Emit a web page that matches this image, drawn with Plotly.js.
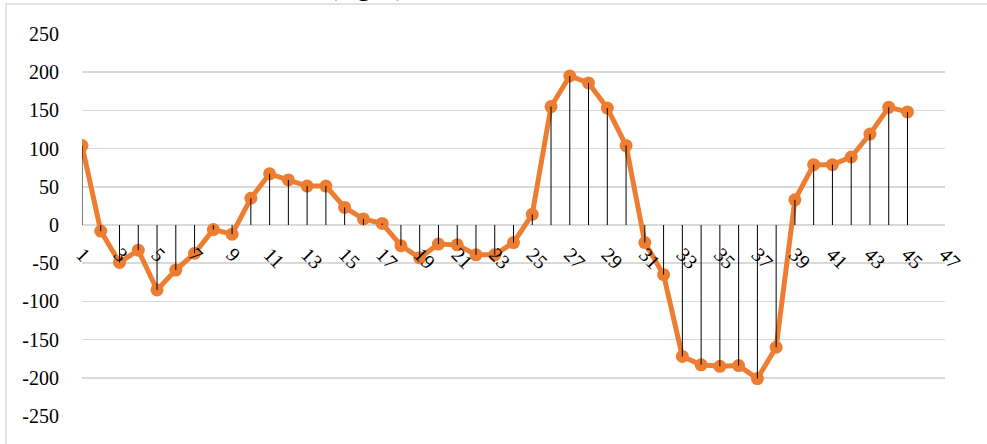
<!DOCTYPE html>
<html>
<head>
<meta charset="utf-8">
<script src="https://cdn.plot.ly/plotly-3.0.1.min.js"></script>
<style>html,body{margin:0;padding:0;background:#fff;}#chart{width:987px;height:444px;}</style>
</head>
<body>
<div id="chart"></div>
<script>
// Categories (x) and series values (y)
var categories = [1,2,3,4,5,6,7,8,9,10,11,12,13,14,15,16,17,18,19,20,21,22,23,24,25,26,27,28,29,30,31,32,33,34,35,36,37,38,39,40,41,42,43,44,45];
var values = [104,-8,-49,-33,-85,-59,-37,-6,-12,35,67,59,51,51,23,8,2,-27,-43,-25,-26,-39,-39,-23,14,155,195,186,153,104,-23,-65,-172,-183,-185,-184,-201,-160,33,79,79,89,119,154,148];
var xTickValues = [1,3,5,7,9,11,13,15,17,19,21,23,25,27,29,31,33,35,37,39,41,43,45,47];
var yTickValues = [-250,-200,-150,-100,-50,0,50,100,150,200,250];
var titleText = "(right)";

// drop lines from each point to the zero axis, built from the data
var dropX = [], dropY = [];
for (var i = 0; i < categories.length; i++) {
  dropX.push(categories[i], categories[i], null);
  dropY.push(0, values[i], null);
}

var font = {family: '"Liberation Serif", "Times New Roman", serif', size: 20, color: '#000'};

var traces = [
  {
    x: categories, y: values, type: 'scatter', mode: 'lines+markers',
    line: {color: '#ED7D31', width: 5},
    marker: {color: '#ED7D31', size: 13},
    hoverinfo: 'x+y', showlegend: false
  },
  {
    x: dropX, y: dropY, type: 'scatter', mode: 'lines',
    line: {color: '#000', width: 1},
    hoverinfo: 'skip', showlegend: false
  }
];

var layout = {
  width: 987, height: 444,
  margin: {l: 82, r: 42, t: 34, b: 28, pad: 0},
  paper_bgcolor: '#fff', plot_bgcolor: '#fff',
  font: font,
  showlegend: false,
  xaxis: {
    type: 'linear', range: [1, 47],
    tickmode: 'array', tickvals: xTickValues,
    ticktext: xTickValues.map(String),
    tickangle: 45,
    ticks: 'outside', ticklen: 9, tickcolor: 'rgba(0,0,0,0)',
    showgrid: false, zeroline: false, showline: false,
    anchor: 'free', position: 0.5,
    tickfont: font
  },
  yaxis: {
    range: [-250, 250],
    tickmode: 'array', tickvals: yTickValues,
    ticktext: yTickValues.map(String),
    ticks: 'outside', ticklen: 18, tickcolor: 'rgba(0,0,0,0)',
    showgrid: true, gridcolor: '#d9d9d9', gridwidth: 1.5,
    zeroline: false, showline: false,
    tickfont: font
  },
  shapes: [
    {type: 'rect', xref: 'paper', yref: 'paper',
     x0: -0.088, x1: 1.3, y0: -0.3, y1: 1.0785,
     line: {color: '#d9d9d9', width: 1.5}, fillcolor: 'rgba(0,0,0,0)', layer: 'below'}
  ],
  annotations: [
    {text: titleText, xref: 'paper', yref: 'paper', x: 0.330, y: 1.08,
     xanchor: 'center', yanchor: 'bottom', showarrow: false,
     font: {family: '"Liberation Serif", "Times New Roman", serif', size: 31, color: '#000'}}
  ]
};

Plotly.newPlot('chart', traces, layout, {displayModeBar: false, staticPlot: true});
</script>
</body>
</html>
